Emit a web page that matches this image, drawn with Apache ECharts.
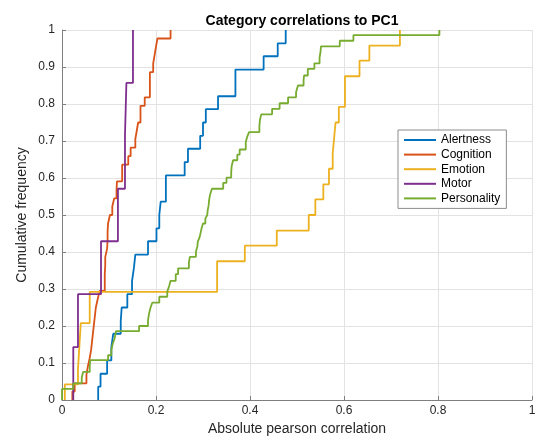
<!DOCTYPE html>
<html>
<head>
<meta charset="utf-8">
<script src="https://cdn.jsdelivr.net/npm/echarts/dist/echarts.min.js"></script>
<style>
  html, body { margin: 0; background: #fff; }
  #chart { width: 543px; height: 441px; }
</style>
</head>
<body>
<div id="chart"></div>
<script>
// ------------------------------------------------------------
// Data (ECDF steps: x = |r|, y = cumulative frequency)
// ------------------------------------------------------------

const categories = ["Alertness", "Cognition", "Emotion", "Motor", "Personality"];
const colors = ["#0072BD", "#D95319", "#EDB120", "#7E2F8E", "#77AC30"];

const alertnessX = [0.077, 0.077, 0.082, 0.096, 0.105, 0.109, 0.125, 0.127, 0.139, 0.149,
  0.153, 0.156, 0.183, 0.201, 0.207, 0.21, 0.221, 0.221, 0.261, 0.268,
  0.294, 0.3, 0.306, 0.332, 0.369, 0.369, 0.429, 0.459, 0.476];
const alertnessY = [0, 0.036, 0.071, 0.107, 0.143, 0.179, 0.214, 0.25, 0.286, 0.321,
  0.357, 0.393, 0.429, 0.464, 0.5, 0.536, 0.571, 0.607, 0.643, 0.679,
  0.714, 0.75, 0.786, 0.821, 0.857, 0.893, 0.929, 0.964, 1];

const cognitionX = [0.022, 0.022, 0.027, 0.052, 0.055, 0.059, 0.062, 0.064, 0.066, 0.068,
  0.07, 0.072, 0.076, 0.08, 0.091, 0.091, 0.092, 0.092, 0.096, 0.097,
  0.097, 0.098, 0.102, 0.107, 0.111, 0.116, 0.117, 0.128, 0.128, 0.141,
  0.146, 0.156, 0.159, 0.162, 0.167, 0.167, 0.176, 0.187, 0.187, 0.187,
  0.194, 0.197, 0.2, 0.203, 0.231];
const cognitionY = [0, 0.023, 0.045, 0.068, 0.091, 0.114, 0.136, 0.159, 0.182, 0.205,
  0.227, 0.25, 0.273, 0.295, 0.318, 0.341, 0.364, 0.386, 0.409, 0.432,
  0.455, 0.477, 0.5, 0.523, 0.545, 0.568, 0.591, 0.614, 0.636, 0.659,
  0.682, 0.705, 0.727, 0.75, 0.773, 0.795, 0.818, 0.841, 0.864, 0.886,
  0.909, 0.932, 0.955, 0.977, 1];

const emotionX = [0.006, 0.006, 0.034, 0.036, 0.038, 0.04, 0.059, 0.059, 0.33, 0.33,
  0.389, 0.457, 0.525, 0.539, 0.556, 0.568, 0.576, 0.579, 0.582, 0.589,
  0.602, 0.602, 0.633, 0.654, 0.719];
const emotionY = [0, 0.042, 0.083, 0.125, 0.167, 0.208, 0.25, 0.292, 0.333, 0.375,
  0.417, 0.458, 0.5, 0.542, 0.583, 0.625, 0.667, 0.708, 0.75, 0.792,
  0.833, 0.875, 0.917, 0.958, 1];

const motorX = [0.024, 0.024, 0.034, 0.083, 0.119, 0.134, 0.137, 0.151];
const motorY = [0, 0.143, 0.286, 0.429, 0.571, 0.714, 0.857, 1];

const personalityX = [0, 0, 0.024, 0.042, 0.045, 0.059, 0.06, 0.098, 0.105, 0.108,
  0.112, 0.115, 0.164, 0.183, 0.185, 0.188, 0.192, 0.207, 0.224, 0.228,
  0.231, 0.242, 0.247, 0.27, 0.272, 0.285, 0.288, 0.289, 0.293, 0.297,
  0.3, 0.305, 0.309, 0.31, 0.312, 0.313, 0.315, 0.319, 0.343, 0.35,
  0.36, 0.361, 0.364, 0.373, 0.378, 0.391, 0.394, 0.398, 0.42, 0.421,
  0.424, 0.447, 0.463, 0.481, 0.498, 0.502, 0.514, 0.515, 0.523, 0.537,
  0.548, 0.55, 0.551, 0.591, 0.62, 0.803];
const personalityY = [0, 0.03, 0.045, 0.061, 0.076, 0.091, 0.108, 0.121, 0.136, 0.152,
  0.167, 0.186, 0.2, 0.215, 0.232, 0.248, 0.263, 0.279, 0.293, 0.308,
  0.322, 0.34, 0.356, 0.371, 0.387, 0.401, 0.415, 0.428, 0.441, 0.464,
  0.477, 0.49, 0.5, 0.513, 0.526, 0.54, 0.555, 0.571, 0.587, 0.601,
  0.616, 0.632, 0.648, 0.663, 0.677, 0.697, 0.711, 0.724, 0.74, 0.756,
  0.772, 0.787, 0.802, 0.818, 0.832, 0.85, 0.864, 0.877, 0.895, 0.91,
  0.925, 0.94, 0.956, 0.971, 0.986, 1];

const seriesX = [alertnessX, cognitionX, emotionX, motorX, personalityX];
const seriesY = [alertnessY, cognitionY, emotionY, motorY, personalityY];

// ------------------------------------------------------------
// Chart
// ------------------------------------------------------------

const font = "'Liberation Sans', Arial, Helvetica, sans-serif";
const axisGray = "#7f7f7f";

const chart = echarts.init(document.getElementById("chart"));

chart.setOption({
  animation: false,
  backgroundColor: "#fff",
  title: {
    text: "Category correlations to PC1",
    left: 297,
    top: 9,
    textAlign: "center",
    textStyle: { fontFamily: font, fontSize: 14, fontWeight: "bold", color: "#000" },
  },
  grid: { left: 62, right: 11, top: 30, bottom: 39 },
  xAxis: {
    type: "value",
    min: 0,
    max: 1,
    interval: 0.2,
    name: "Absolute pearson correlation",
    nameLocation: "middle",
    nameGap: 22,
    nameMoveOverlap: false,
    nameTextStyle: { fontFamily: font, fontSize: 14, color: "#262626" },
    axisLine: { show: true, onZero: false, lineStyle: { color: axisGray } },
    axisTick: { show: true, inside: true, length: 4, lineStyle: { color: axisGray } },
    axisLabel: { fontFamily: font, fontSize: 12, color: "#262626", margin: 5 },
    splitLine: { show: true, lineStyle: { color: "#e3e3e3" } },
  },
  yAxis: {
    type: "value",
    min: 0,
    max: 1,
    interval: 0.1,
    name: "Cumulative frequency",
    nameLocation: "middle",
    nameGap: 33,
    nameMoveOverlap: false,
    nameRotate: 90,
    nameTextStyle: { fontFamily: font, fontSize: 14, color: "#262626" },
    axisLine: { show: true, lineStyle: { color: axisGray } },
    axisTick: { show: true, inside: true, length: 4, lineStyle: { color: axisGray } },
    axisLabel: { fontFamily: font, fontSize: 12, color: "#262626", margin: 7 },
    splitLine: { show: true, lineStyle: { color: "#e3e3e3" } },
  },
  legend: {
    orient: "vertical",
    left: 398,
    top: 130,
    backgroundColor: "#fff",
    borderColor: "#8c8c8c",
    borderWidth: 1,
    borderRadius: 0,
    padding: [4, 6, 4, 6],
    itemGap: 2.6,
    itemWidth: 32,
    itemHeight: 2,
    icon: "rect",
    textStyle: { fontFamily: font, fontSize: 12, color: "#000", lineHeight: 12 },
    data: categories,
  },
  series: categories.map((name, i) => ({
    name: name,
    type: "line",
    step: "end",
    symbol: "none",
    color: colors[i],
    lineStyle: { width: 1.8, color: colors[i] },
    data: seriesX[i].map((x, j) => [x, seriesY[i][j]]),
  })),
});
</script>
</body>
</html>
